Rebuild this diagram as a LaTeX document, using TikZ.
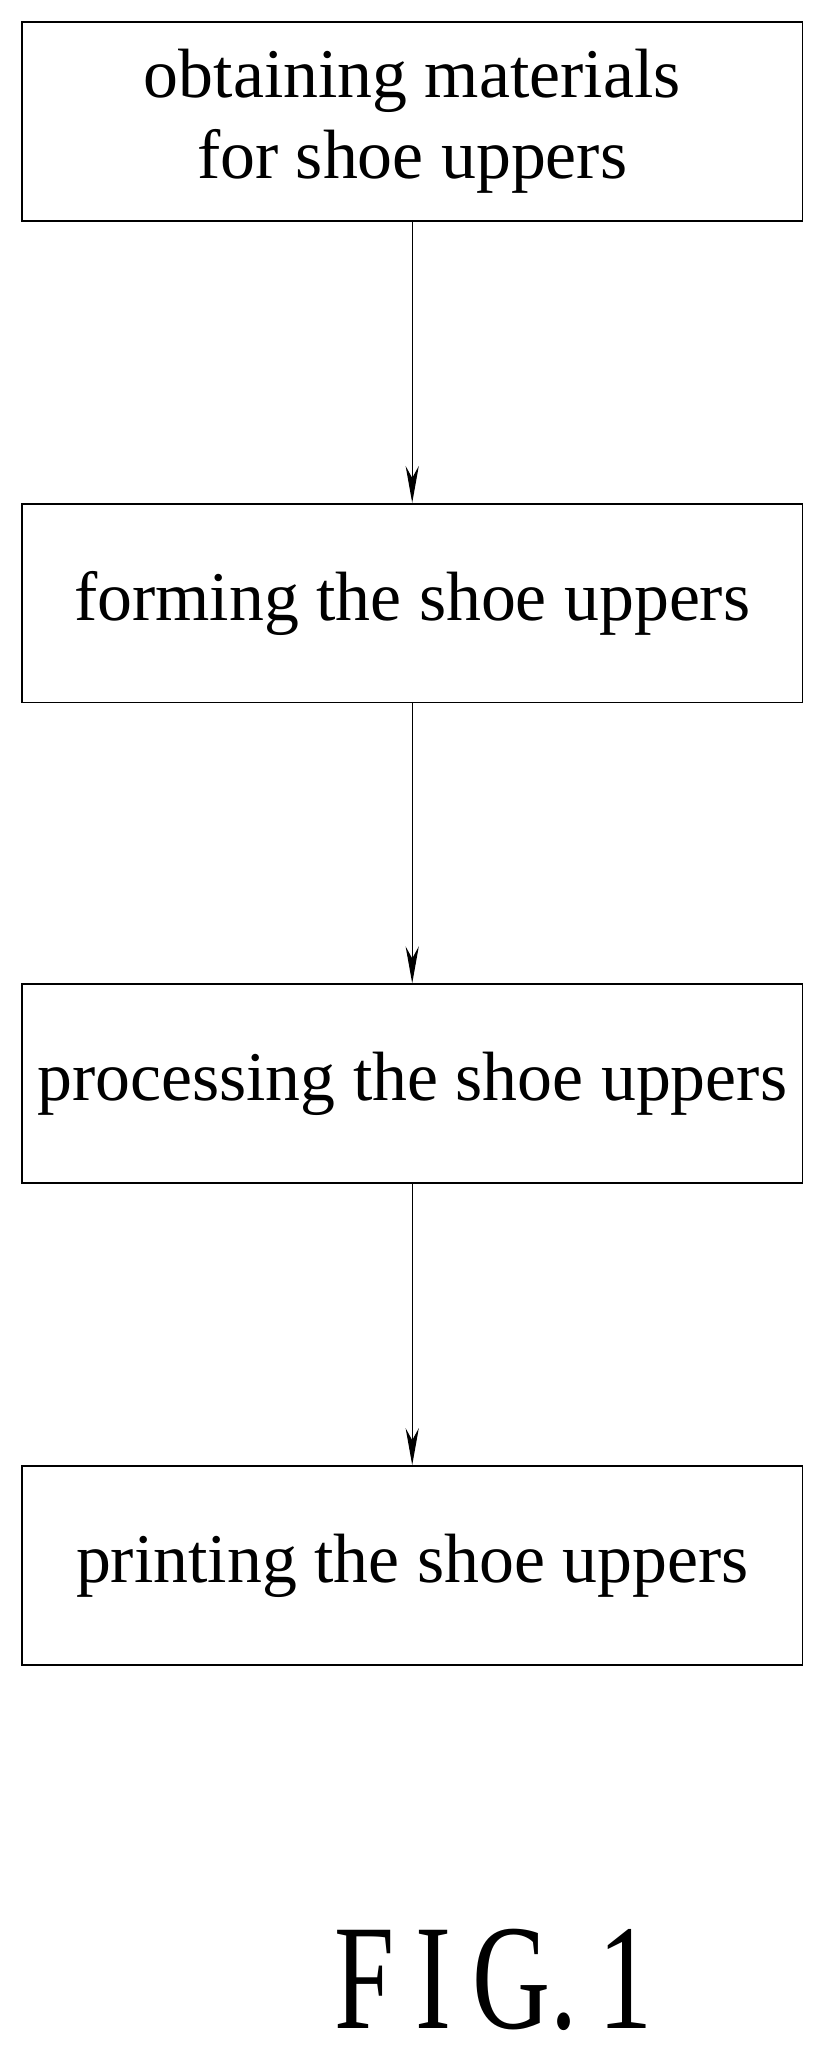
\documentclass[tikz,border=0pt]{standalone}
\usepackage{fontspec}
\setmainfont{Liberation Serif}
\usetikzlibrary{arrows.meta}
\begin{document}
\begin{tikzpicture}[x=1pt,y=-1pt,
  stepbox/.style={draw,line width=1.3pt,minimum width=593pt,minimum height=151pt,anchor=north west,align=center,font=\fontsize{53}{62}\selectfont,inner sep=0pt},
  conn/.style={line width=0.9pt,-{Stealth[length=28pt,width=10pt]}}]
\useasboundingbox (0,0) rectangle (626,1568);
\node[stepbox] (a) at (16,16) {obtaining materials\\for shoe uppers};
\node[stepbox] (b) at (16,382) {forming the shoe uppers};
\node[stepbox] (c) at (16,747) {processing the shoe uppers};
\node[stepbox] (d) at (16,1113) {printing the shoe uppers};
\draw[conn] (a) -- (b);
\draw[conn] (b) -- (c);
\draw[conn] (c) -- (d);
\node[font=\fontsize{114}{114}\selectfont,xscale=0.72,inner sep=0pt] (fig) at (375,1504) {F\hspace{22pt}I\hspace{22pt}G.\hspace{22pt}1};
\end{tikzpicture}
\end{document}
